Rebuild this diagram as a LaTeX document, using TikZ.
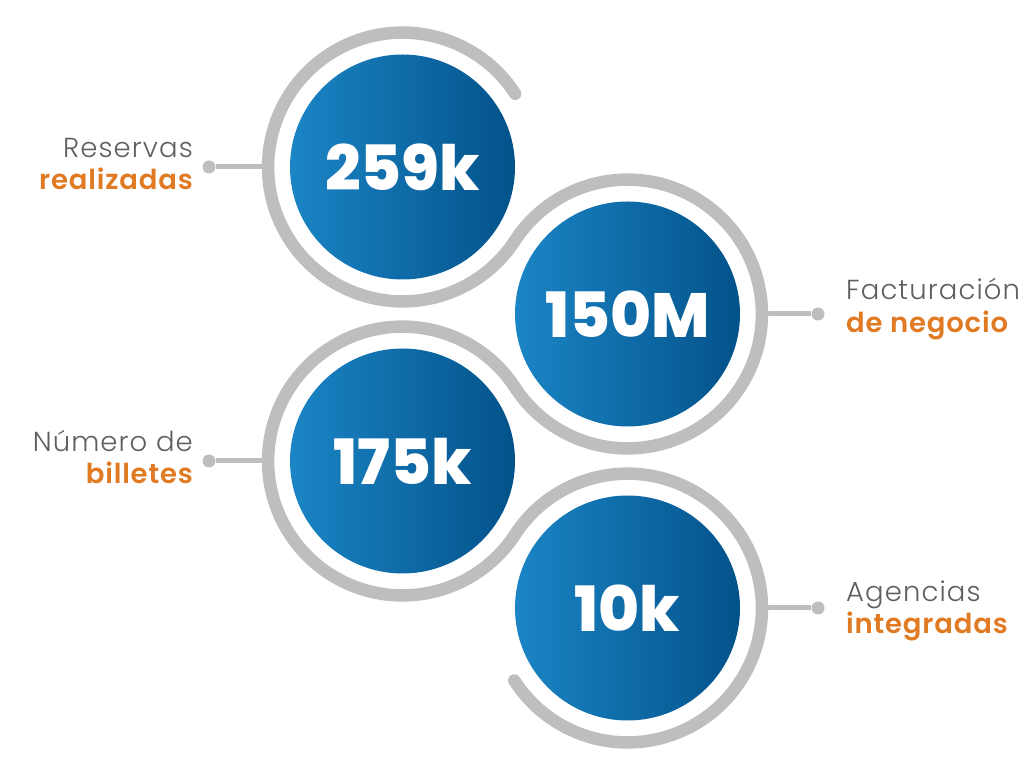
\documentclass[tikz,border=0pt]{standalone}
\usepackage{fontspec}
\setmainfont{Poppins}
\newfontfamily\heavyfont{Poppins ExtraBold}
\newfontfamily\thinfont{Poppins Light}[LetterSpace=4]
\newfontfamily\semifont{Poppins SemiBold}[LetterSpace=3]
\usetikzlibrary{positioning}
\definecolor{ringgray}{RGB}{190,190,190}
\definecolor{labelgray}{RGB}{95,95,95}
\definecolor{accent}{RGB}{224,122,35}
\definecolor{bluelight}{RGB}{27,133,197}
\definecolor{bluedark}{RGB}{3,82,138}
\def\rr{134.4}

\begin{document}
\begin{tikzpicture}[x=1pt, y=1pt,
    stat/.style={circle, minimum size=225pt, inner sep=0pt, left color=bluelight, right color=bluedark,
      text=white, font=\fontsize{62.5}{62.5}\heavyfont},
    ring/.style={line width=12.5pt, ringgray, line cap=round},
    stub/.style={line width=5pt, ringgray},
    dot/.style={circle, fill=ringgray, minimum size=13pt, inner sep=0pt},
    lbl/.style={inner sep=0pt, font=\fontsize{27.5}{32}\thinfont, text=labelgray},
    hl/.style={inner sep=0pt, font=\fontsize{27.5}{32}\semifont, text=accent}]
    \useasboundingbox (0,0) rectangle (1033,784);
    \node[stat] (c1) at (402.5, 617) {259k};
    \node[stat] (c2) at (627.5, 470) {150M};
    \node[stat] (c3) at (402.5, 323) {175k};
    \node[stat] (c4) at (627.5, 176) {10k};
    \draw[ring] (c1.center) ++(33:\rr pt)
        arc[start angle=33, end angle=326.84, radius=\rr pt]
        arc[start angle=146.84, end angle=-146.84, radius=\rr pt]
        arc[start angle=33.16, end angle=326.84, radius=\rr pt]
        arc[start angle=146.84, end angle=-147.4, radius=\rr pt];
    \coordinate (r1) at ([xshift=-\rr pt]c1.center);
    \coordinate (r2) at ([xshift=\rr pt]c2.center);
    \coordinate (r3) at ([xshift=-\rr pt]c3.center);
    \coordinate (r4) at ([xshift=\rr pt]c4.center);
    \node[dot] (d1) at (209, 617) {};
    \node[dot] (d2) at (818, 470) {};
    \node[dot] (d3) at (209, 323) {};
    \node[dot] (d4) at (818, 176) {};
    \draw[stub] (r1) -- (d1);
    \draw[stub] (r2) -- (d2);
    \draw[stub] (r3) -- (d3);
    \draw[stub] (r4) -- (d4);
    \node[lbl, anchor=base east] (l1) at (193, 626) {Reservas};
    \node[hl, anchor=base east] (h1) at ([yshift=-32pt]l1.base east) {realizadas};
    \node[lbl, anchor=base west] (l2) at (846, 484) {Facturación};
    \node[hl, anchor=base west] (h2) at ([yshift=-32.7pt]l2.base west) {de negocio};
    \node[lbl, anchor=base east] (l3) at (193, 332) {Número de};
    \node[hl, anchor=base east] (h3) at ([yshift=-32pt]l3.base east) {billetes};
    \node[lbl, anchor=base west] (l4) at (846, 182.3) {Agencias};
    \node[hl, anchor=base west] (h4) at ([yshift=-32.3pt]l4.base west) {integradas};
\end{tikzpicture}
\end{document}
